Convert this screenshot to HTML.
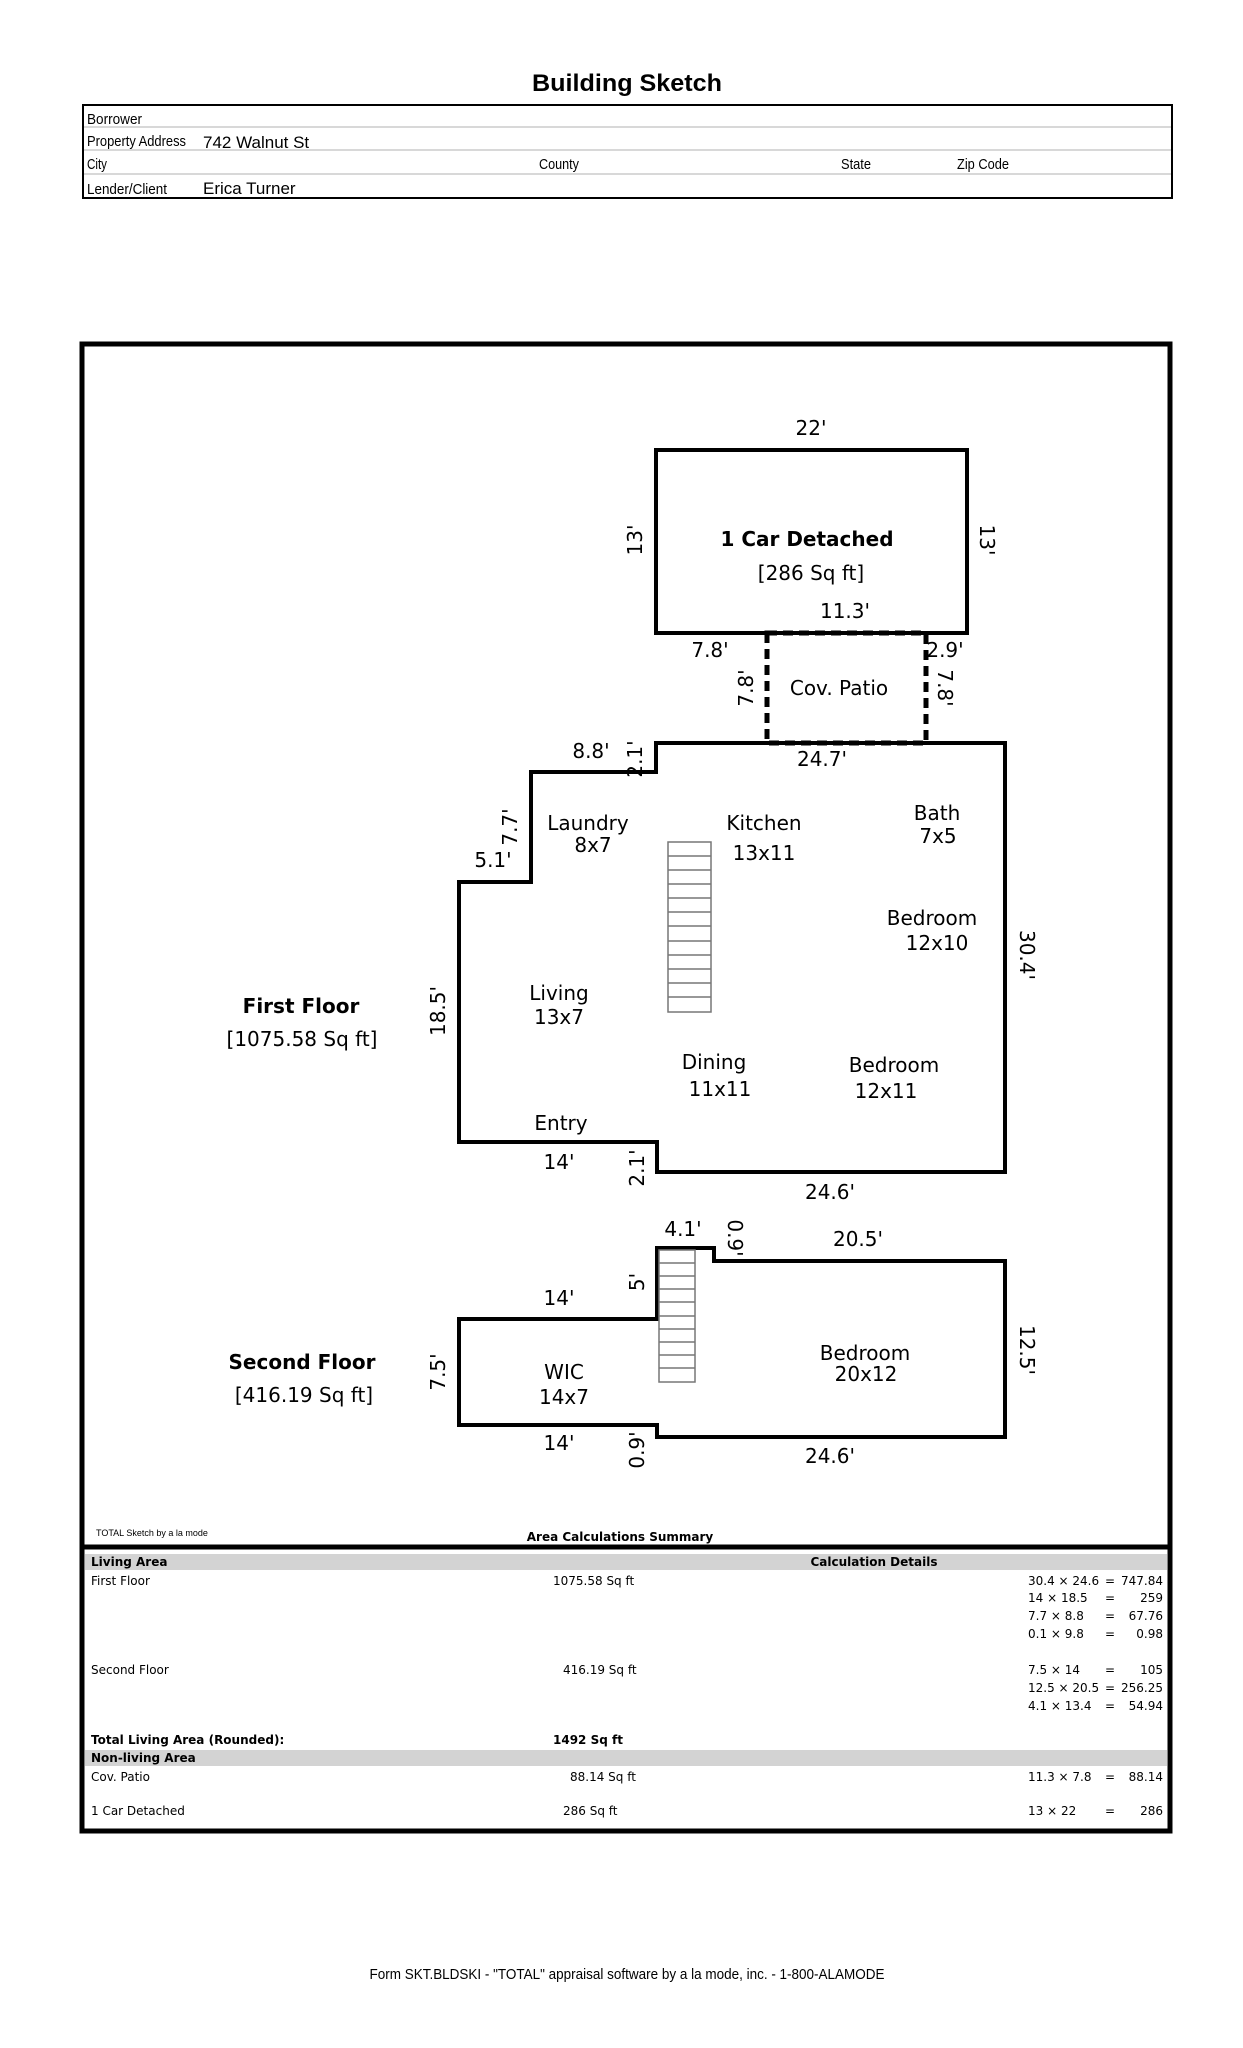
<!DOCTYPE html>
<html><head><meta charset="utf-8"><style>
html,body{margin:0;padding:0;background:#fff;}
svg{display:block;}
.d{font-family:"DejaVu Sans",sans-serif;font-size:20px;fill:#000;}
.h{font-family:"Liberation Sans",sans-serif;font-size:15px;fill:#000;}
.t{font-family:"DejaVu Sans",sans-serif;font-size:12px;fill:#000;}
.tb{font-family:"DejaVu Sans",sans-serif;font-size:12px;font-weight:bold;fill:#000;}
</style></head><body>
<svg width="1243" height="2048" viewBox="0 0 1243 2048" xmlns="http://www.w3.org/2000/svg">
<text x="627" y="91" text-anchor="middle" style="font-family:'Liberation Sans',sans-serif;font-size:24px;font-weight:bold" textLength="190" lengthAdjust="spacingAndGlyphs">Building Sketch</text>
<!-- header table -->
<rect x="83" y="105" width="1089" height="93" fill="none" stroke="#000" stroke-width="2"/>
<line x1="84" y1="127" x2="1171" y2="127" stroke="#ccc" stroke-width="1.5"/>
<line x1="84" y1="150" x2="1171" y2="150" stroke="#ccc" stroke-width="1.5"/>
<line x1="84" y1="174" x2="1171" y2="174" stroke="#ccc" stroke-width="1.5"/>
<text class="h" x="87" y="124" textLength="55" lengthAdjust="spacingAndGlyphs">Borrower</text>
<text class="h" x="87" y="146" textLength="99" lengthAdjust="spacingAndGlyphs">Property Address</text>
<text class="h" x="203" y="148" style="font-size:17px">742 Walnut St</text>
<text class="h" x="87" y="169" textLength="20" lengthAdjust="spacingAndGlyphs">City</text>
<text class="h" x="539" y="169" textLength="40" lengthAdjust="spacingAndGlyphs">County</text>
<text class="h" x="841" y="169" textLength="30" lengthAdjust="spacingAndGlyphs">State</text>
<text class="h" x="957" y="169" textLength="52" lengthAdjust="spacingAndGlyphs">Zip Code</text>
<text class="h" x="87" y="194" textLength="80" lengthAdjust="spacingAndGlyphs">Lender/Client</text>
<text class="h" x="203" y="194" style="font-size:17px">Erica Turner</text>
<!-- main frame -->
<rect x="82" y="344" width="1088" height="1487" fill="none" stroke="#000" stroke-width="5"/>
<line x1="82" y1="1547" x2="1170" y2="1547" stroke="#000" stroke-width="5"/>
<!-- garage -->
<rect x="656" y="450" width="311" height="183" fill="none" stroke="#000" stroke-width="4"/>
<rect x="767" y="633" width="159" height="110" fill="none" stroke="#000" stroke-width="5" stroke-dasharray="10,6"/>
<!-- first floor -->
<polygon points="656,743 1005,743 1005,1172 657,1172 657,1142 459,1142 459,882 531,882 531,772 656,772" fill="none" stroke="#000" stroke-width="4"/>
<g stroke="#777" stroke-width="1.5" fill="none">
<rect x="668" y="842" width="43" height="170"/>
<line x1="668" y1="856" x2="711" y2="856"/><line x1="668" y1="870" x2="711" y2="870"/><line x1="668" y1="884" x2="711" y2="884"/><line x1="668" y1="898" x2="711" y2="898"/><line x1="668" y1="912" x2="711" y2="912"/><line x1="668" y1="926" x2="711" y2="926"/><line x1="668" y1="941" x2="711" y2="941"/><line x1="668" y1="955" x2="711" y2="955"/><line x1="668" y1="969" x2="711" y2="969"/><line x1="668" y1="983" x2="711" y2="983"/><line x1="668" y1="997" x2="711" y2="997"/>
</g>
<!-- second floor -->
<polygon points="657,1248 714,1248 714,1261 1005,1261 1005,1437 657,1437 657,1425 459,1425 459,1319 657,1319" fill="none" stroke="#000" stroke-width="4"/>
<g stroke="#777" stroke-width="1.5" fill="none">
<rect x="659" y="1250" width="36" height="132"/>
<line x1="659" y1="1263" x2="695" y2="1263"/><line x1="659" y1="1276" x2="695" y2="1276"/><line x1="659" y1="1289" x2="695" y2="1289"/><line x1="659" y1="1302" x2="695" y2="1302"/><line x1="659" y1="1316" x2="695" y2="1316"/><line x1="659" y1="1329" x2="695" y2="1329"/><line x1="659" y1="1342" x2="695" y2="1342"/><line x1="659" y1="1355" x2="695" y2="1355"/><line x1="659" y1="1368" x2="695" y2="1368"/>
</g>
<g class="d" text-anchor="middle" dominant-baseline="central">
<text x="811" y="428">22'</text>
<text transform="translate(635,540) rotate(-90)">13'</text>
<text transform="translate(987,540) rotate(90)">13'</text>
<text x="807" y="539" font-weight="bold">1 Car Detached</text>
<text x="811" y="573">[286 Sq ft]</text>
<text x="845" y="611">11.3'</text>
<text x="710" y="650">7.8'</text>
<text x="945" y="650">2.9'</text>
<text transform="translate(746,688) rotate(-90)">7.8'</text>
<text transform="translate(945,688) rotate(90)">7.8'</text>
<text x="839" y="688">Cov. Patio</text>
<text x="591" y="751">8.8'</text>
<text transform="translate(635,759) rotate(-90)">2.1'</text>
<text x="822" y="759">24.7'</text>
<text transform="translate(510,827) rotate(-90)">7.7'</text>
<text x="493" y="860">5.1'</text>
<text x="588" y="823">Laundry</text>
<text x="593" y="845">8x7</text>
<text x="764" y="823">Kitchen</text>
<text x="764" y="853">13x11</text>
<text x="937" y="813">Bath</text>
<text x="938" y="836">7x5</text>
<text x="932" y="918">Bedroom</text>
<text x="937" y="943">12x10</text>
<text transform="translate(1027,955) rotate(90)">30.4'</text>
<text x="301" y="1006" font-weight="bold">First Floor</text>
<text x="302" y="1039">[1075.58 Sq ft]</text>
<text transform="translate(438,1011) rotate(-90)">18.5'</text>
<text x="559" y="993">Living</text>
<text x="559" y="1017">13x7</text>
<text x="714" y="1062">Dining</text>
<text x="720" y="1089">11x11</text>
<text x="894" y="1065">Bedroom</text>
<text x="886" y="1091">12x11</text>
<text x="561" y="1123">Entry</text>
<text x="559" y="1162">14'</text>
<text transform="translate(637,1168) rotate(-90)">2.1'</text>
<text x="830" y="1192">24.6'</text>
<text x="683" y="1229">4.1'</text>
<text transform="translate(735,1238) rotate(90)">0.9'</text>
<text x="858" y="1239">20.5'</text>
<text transform="translate(637,1282) rotate(-90)">5'</text>
<text x="559" y="1298">14'</text>
<text transform="translate(1027,1350) rotate(90)">12.5'</text>
<text x="865" y="1353">Bedroom</text>
<text x="866" y="1374">20x12</text>
<text x="302" y="1362" font-weight="bold">Second Floor</text>
<text x="304" y="1395">[416.19 Sq ft]</text>
<text transform="translate(438,1372) rotate(-90)">7.5'</text>
<text x="564" y="1372">WIC</text>
<text x="564" y="1397">14x7</text>
<text x="559" y="1443">14'</text>
<text transform="translate(637,1450) rotate(-90)">0.9'</text>
<text x="830" y="1456">24.6'</text>
</g>
<!-- summary -->
<text x="96" y="1536" style="font-family:'Liberation Sans',sans-serif;font-size:9px">TOTAL Sketch by a la mode</text>
<text class="tb" x="620" y="1541" text-anchor="middle">Area Calculations Summary</text>
<rect x="85" y="1554" width="1082" height="16" fill="#d3d3d3"/>
<rect x="85" y="1750" width="1082" height="16" fill="#d3d3d3"/>
<text class="tb" x="91" y="1566">Living Area</text>
<text class="tb" x="874" y="1566" text-anchor="middle">Calculation Details</text>
<g class="t">
<text x="91" y="1585">First Floor</text>
<text x="553" y="1585">1075.58 Sq ft</text>
<text x="91" y="1674">Second Floor</text>
<text x="563" y="1674">416.19 Sq ft</text>
<text x="570" y="1781">88.14 Sq ft</text>
<text x="91" y="1781">Cov. Patio</text>
<text x="91" y="1815">1 Car Detached</text>
<text x="563" y="1815">286 Sq ft</text>
</g>
<text class="tb" x="91" y="1744">Total Living Area (Rounded):</text>
<text class="tb" x="553" y="1744">1492 Sq ft</text>
<text class="tb" x="91" y="1762">Non-living Area</text>
<g class="t">
<text x="1028" y="1585">30.4 × 24.6</text><text x="1110" y="1585" text-anchor="middle">=</text><text x="1163" y="1585" text-anchor="end">747.84</text>
<text x="1028" y="1602">14 × 18.5</text><text x="1110" y="1602" text-anchor="middle">=</text><text x="1163" y="1602" text-anchor="end">259</text>
<text x="1028" y="1620">7.7 × 8.8</text><text x="1110" y="1620" text-anchor="middle">=</text><text x="1163" y="1620" text-anchor="end">67.76</text>
<text x="1028" y="1638">0.1 × 9.8</text><text x="1110" y="1638" text-anchor="middle">=</text><text x="1163" y="1638" text-anchor="end">0.98</text>
<text x="1028" y="1674">7.5 × 14</text><text x="1110" y="1674" text-anchor="middle">=</text><text x="1163" y="1674" text-anchor="end">105</text>
<text x="1028" y="1692">12.5 × 20.5</text><text x="1110" y="1692" text-anchor="middle">=</text><text x="1163" y="1692" text-anchor="end">256.25</text>
<text x="1028" y="1710">4.1 × 13.4</text><text x="1110" y="1710" text-anchor="middle">=</text><text x="1163" y="1710" text-anchor="end">54.94</text>
<text x="1028" y="1781">11.3 × 7.8</text><text x="1110" y="1781" text-anchor="middle">=</text><text x="1163" y="1781" text-anchor="end">88.14</text>
<text x="1028" y="1815">13 × 22</text><text x="1110" y="1815" text-anchor="middle">=</text><text x="1163" y="1815" text-anchor="end">286</text>
</g>
<text x="627" y="1979" text-anchor="middle" style="font-family:'Liberation Sans',sans-serif;font-size:15px" textLength="515" lengthAdjust="spacingAndGlyphs">Form SKT.BLDSKI - "TOTAL" appraisal software by a la mode, inc. - 1-800-ALAMODE</text>
</svg>
</body></html>
